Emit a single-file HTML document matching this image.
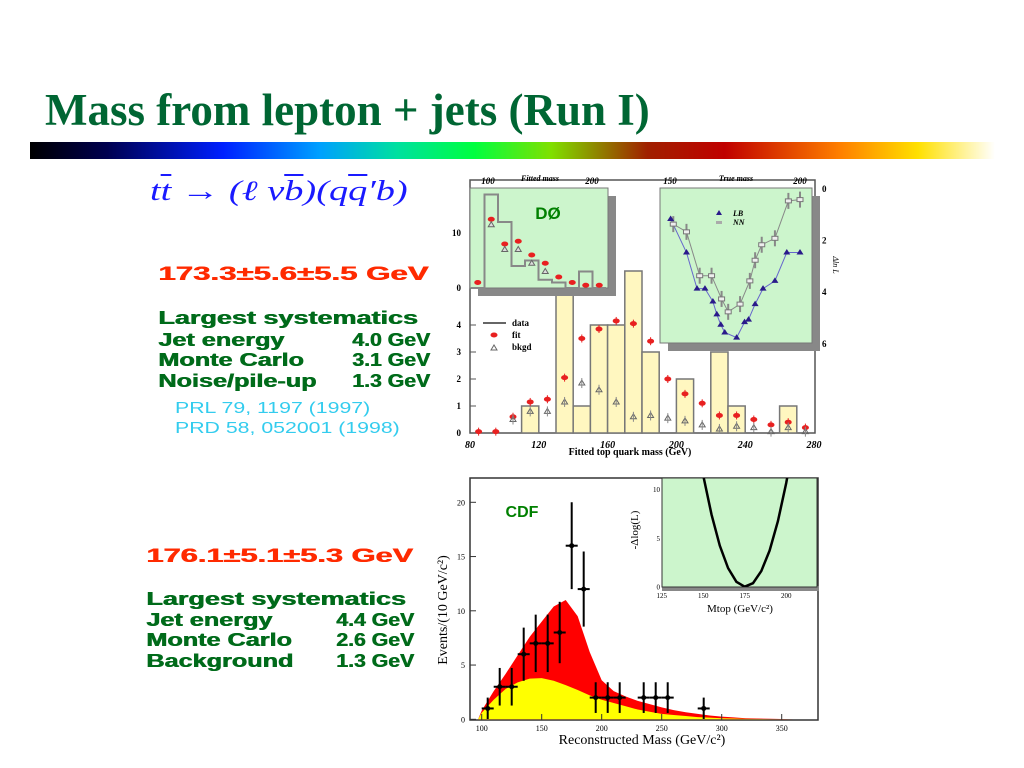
<!DOCTYPE html>
<html><head><meta charset="utf-8"><style>
html,body{margin:0;padding:0;background:#fff;}
body{width:1024px;height:768px;position:relative;overflow:hidden;font-family:"Liberation Sans",sans-serif;}
.t{position:absolute;white-space:nowrap;transform-origin:0 0;}
.g{color:#006b1a;font-weight:bold;font-size:18px;transform:scaleX(1.4);text-shadow:0.6px 0 #006b1a;}
.h{transform:scaleX(1.5);}
.v{transform:scaleX(1.18);}
.r{color:#ff2a00;font-weight:bold;font-size:19.5px;transform:scaleX(1.6);text-shadow:0.6px 0 #ff2a00;}
.c{color:#33ccee;font-size:16px;transform:scaleX(1.33);}
</style></head><body>
<div class="t" style="left:45px;top:84px;font:bold 45px 'Liberation Serif',serif;color:#006633;">Mass from lepton + jets (Run I)</div>
<div class="t" style="left:30px;top:142px;width:965px;height:17px;background:linear-gradient(90deg,#000 0%,#000050 8%,#0020ff 20%,#00a0ff 30%,#00e0a0 38%,#00ff40 46%,#80e000 54%,#a02000 64%,#c00000 72%,#ff8000 84%,#ffe000 92%,#fff 100%);"></div>
<div class="t" style="left:150px;top:176px;font:italic 28px 'Liberation Serif',serif;color:#1a1aff;transform:scaleX(1.37);">t<span style="text-decoration:overline">t</span> &rarr; (&#8467; &nu;<span style="text-decoration:overline">b</span>)(q<span style="text-decoration:overline">q</span>&#8242;b)</div>
<div class="t r" style="left:158px;top:263px;">173.3±5.6±5.5 GeV</div>
<div class="t g h" style="left:158px;top:308px;">Largest systematics</div>
<div class="t g" style="left:158px;top:330px;">Jet energy</div>
<div class="t g v" style="left:352px;top:330px;">4.0 GeV</div>
<div class="t g" style="left:158px;top:350px;">Monte Carlo</div>
<div class="t g v" style="left:352px;top:350px;">3.1 GeV</div>
<div class="t g" style="left:158px;top:371px;">Noise/pile-up</div>
<div class="t g v" style="left:352px;top:371px;">1.3 GeV</div>
<div class="t c" style="left:175px;top:400px;">PRL 79, 1197 (1997)</div>
<div class="t c" style="left:175px;top:420px;">PRD 58, 052001 (1998)</div>
<div class="t r" style="left:146px;top:545px;transform:scaleX(1.58);">176.1±5.1±5.3 GeV</div>
<div class="t g h" style="left:146px;top:589px;">Largest systematics</div>
<div class="t g" style="left:146px;top:610px;">Jet energy</div>
<div class="t g v" style="left:336px;top:610px;">4.4 GeV</div>
<div class="t g" style="left:146px;top:630px;">Monte Carlo</div>
<div class="t g v" style="left:336px;top:630px;">2.6 GeV</div>
<div class="t g" style="left:146px;top:651px;">Background</div>
<div class="t g v" style="left:336px;top:651px;">1.3 GeV</div>

<svg id="s" width="1024" height="768" style="position:absolute;left:0;top:0" xmlns="http://www.w3.org/2000/svg"></svg>
<script>
// D0 main
const d0BinLow=[110,130,140,150,160,170,180,200,220,230,260];
const d0Data=[1,6,1,4,4,6,3,2,3,1,1];
const d0FitM=[85,95,105,115,125,135,145,155,165,175,185,195,205,215,225,235,245,255,265,275];
const d0Fit=[0.05,0.05,0.6,1.15,1.25,2.05,3.5,3.85,4.15,4.05,3.4,2,1.45,1.1,0.65,0.65,0.5,0.3,0.4,0.2];
const d0BkgM=[105,115,125,135,145,155,165,175,185,195,205,215,225,235,245,255,265,275];
const d0Bkg=[0.5,0.8,0.8,1.15,1.85,1.6,1.15,0.6,0.65,0.55,0.45,0.3,0.15,0.25,0.2,0.05,0.2,0.05];
const d0XTicks=[80,120,160,200,240,280];
const d0YTicks=[0,1,2,3,4];
// D0 inset 1
const in1Data=[0,17,12,4,5,1.5,1,0,3,0];
const in1Fit=[1,12.5,8,8.5,6,4.5,2,1,0.5,0.5];
const in1Bkg=[null,11.5,7,7,4.5,3,null,null,null,null];
// D0 inset 2
const lbM=[151,157,161,164,167,168.5,170,171.5,176,179,180.5,183,186,190.5,195,200];
const lbV=[1.2,2.5,3.9,3.9,4.4,4.9,5.3,5.6,5.8,5.2,5.1,4.5,3.9,3.6,2.5,2.5];
const nnM=[152,157,162,166.5,170.3,172.8,177.3,181,183,185.5,190.5,195.6,200];
const nnV=[1.4,1.7,3.4,3.4,4.3,4.8,4.5,3.6,2.8,2.2,1.95,0.5,0.45];
// CDF
const cdfM=[105,115,125,135,145,155,165,175,185,195,205,215,235,245,255,285];
const cdfN=[1,3,3,6,7,7,8,16,12,2,2,2,2,2,2,1];
const curveM=[97,100,110,120,130,140,150,160,170,180,190,200,210,220,230,240,250,260,270,280,290,300,310,320,340,360];
const curveTot=[0,0.8,2.6,4.2,5.9,7.6,9.0,10.4,11,9.5,6.2,3.6,2.6,2.1,1.7,1.4,1.1,0.85,0.65,0.5,0.35,0.25,0.18,0.1,0.05,0];
const curveBkg=[0,0.6,1.8,2.8,3.4,3.75,3.8,3.55,3.15,2.7,2.2,1.8,1.5,1.2,0.9,0.7,0.5,0.4,0.3,0.2,0.15,0.1,0.07,0.04,0.02,0];
const cdfXTicks=[100,150,200,250,300,350];
const cdfYTicks=[0,5,10,15,20];
const likeM=[145,150,155,160,165,170,175,180,185,190,195,200,205];
const likeV=[16.4,11.4,7.4,4.2,1.9,0.5,0,0.36,1.6,3.7,6.7,10.6,15.3];
const likeXTicks=[125,150,175,200];
const likeYTicks=[0,5,10];

const S=document.getElementById('s');const NS='http://www.w3.org/2000/svg';
function el(tag,a,parent){const e=document.createElementNS(NS,tag);for(const k in a)e.setAttribute(k,a[k]);(parent||S).appendChild(e);return e;}
function txt(x,y,s,a){const e=el('text',Object.assign({x:x,y:y,'font-family':'Liberation Serif,serif','font-size':9},a||{}));e.textContent=s;return e;}

// ---- D0 main ----
const dx=m=>470+(m-80)*1.72, dy=v=>433-v*27;
let e=el('rect',{x:470,y:180,width:345,height:253,fill:'#fff',stroke:'#555','stroke-width':1.5});

d0BinLow.forEach((b,i)=>{const r=el('rect',{x:dx(b),y:dy(d0Data[i]),width:dx(b+10)-dx(b),height:d0Data[i]*27,fill:'#fff7c0',stroke:'#777','stroke-width':1.5});
});
d0FitM.forEach((m,i)=>{const c=el('ellipse',{cx:dx(m),cy:dy(d0Fit[i]),rx:3.5,ry:2.5,fill:'#e82020'});

el('line',{x1:dx(m),x2:dx(m),y1:dy(d0Fit[i])-4,y2:dy(d0Fit[i])+4,stroke:'#e82020','stroke-width':1});});
d0BkgM.forEach((m,i)=>{const x=dx(m),y=dy(d0Bkg[i]);const p=el('path',{d:`M${x-3},${y+2}L${x},${y-3}L${x+3},${y+2}Z`,fill:'none',stroke:'#666','stroke-width':1});

el('line',{x1:x,x2:x,y1:y-5,y2:y+5,stroke:'#888','stroke-width':1});});
d0XTicks.forEach(t=>{const l=txt(dx(t),448,t,{'text-anchor':'middle','font-style':'italic','font-weight':'bold','font-size':10});
});
d0YTicks.forEach(t=>{const l=txt(461,dy(t)+3,t,{'text-anchor':'end','font-weight':'bold','font-size':9});

el('line',{x1:470,x2:476,y1:dy(t),y2:dy(t),stroke:'#555'});});
e=txt(630,455,'Fitted top quark mass (GeV)',{'text-anchor':'middle','font-weight':'bold','font-size':10});

// legend
el('line',{x1:483,x2:506,y1:323,y2:323,stroke:'#333','stroke-width':1.5});
e=txt(512,326,'data',{'font-size':9,'font-weight':'bold'});
el('ellipse',{cx:494,cy:335,rx:3.5,ry:2.5,fill:'#e82020'});
e=txt(512,338,'fit',{'font-size':9,'font-weight':'bold'});
el('path',{d:'M491,350L494,345L497,350Z',fill:'none',stroke:'#666'});
e=txt(512,350,'bkgd',{'font-size':9,'font-weight':'bold'});

// ---- inset 1 ----
const ix=i=>471+i*13.5, iy=v=>288-v*5.5;
el('rect',{x:478,y:196,width:138,height:100,fill:'#888'});
e=el('rect',{x:470,y:188,width:138,height:100,fill:'#ccf5cc',stroke:'#777'});

let dpath='M'+ix(0)+','+iy(in1Data[0]);
in1Data.forEach((v,i)=>{dpath+=`L${ix(i)},${iy(v)}L${ix(i+1)},${iy(v)}`;});
el('path',{d:dpath,fill:'none',stroke:'#888','stroke-width':2});
in1Fit.forEach((v,i)=>{const c=el('ellipse',{cx:ix(i)+6.75,cy:iy(v),rx:3.5,ry:2.5,fill:'#e82020'});
});
in1Bkg.forEach((v,i)=>{if(v===null)return;const x=ix(i)+6.75,y=iy(v);el('path',{d:`M${x-3},${y+2}L${x},${y-3}L${x+3},${y+2}Z`,fill:'#ddd',stroke:'#666'});});
txt(461,236,'10',{'text-anchor':'end','font-weight':'bold'});txt(461,291,'0',{'text-anchor':'end','font-weight':'bold'});
txt(488,184,'100',{'text-anchor':'middle','font-style':'italic','font-weight':'bold'});
txt(592,184,'200',{'text-anchor':'middle','font-style':'italic','font-weight':'bold'});
txt(540,181,'Fitted mass',{'text-anchor':'middle','font-style':'italic','font-weight':'bold','font-size':8});
e=txt(548,219,'DØ',{'text-anchor':'middle','font-family':'Liberation Sans,sans-serif','font-weight':'bold','font-size':17,fill:'#008000'});


// ---- inset 2 ----
const tx=m=>668+(m-150)*2.64, ty=v=>188+v*25.8;
el('rect',{x:668,y:196,width:152,height:155,fill:'#888'});
e=el('rect',{x:660,y:188,width:152,height:155,fill:'#ccf5cc',stroke:'#777'});

let lp='';lbM.forEach((m,i)=>{lp+=(i?'L':'M')+tx(m)+','+ty(lbV[i]);});
el('path',{d:lp,fill:'none',stroke:'#6666cc','stroke-width':1});
let np='';nnM.forEach((m,i)=>{np+=(i?'L':'M')+tx(m)+','+ty(nnV[i]);});
el('path',{d:np,fill:'none',stroke:'#888','stroke-width':1});
nnM.forEach((m,i)=>{const x=tx(m),y=ty(nnV[i]);el('line',{x1:x,x2:x,y1:y-8,y2:y+8,stroke:'#888','stroke-width':2});
const r=el('rect',{x:x-3,y:y-2,width:6,height:4,fill:'#eee',stroke:'#777'});});
lbM.forEach((m,i)=>{const x=tx(m),y=ty(lbV[i]);const p=el('path',{d:`M${x-3.5},${y+2}L${x},${y-3.5}L${x+3.5},${y+2}Z`,fill:'#2a1a8a'});
});
el('path',{d:'M716,215L719,210L722,215Z',fill:'#2a1a8a'});txt(733,216,'LB',{'font-style':'italic','font-weight':'bold','font-size':8});
el('rect',{x:716,y:221,width:6,height:3,fill:'#aaa'});txt(733,225,'NN',{'font-style':'italic','font-weight':'bold','font-size':8});
txt(670,184,'150',{'text-anchor':'middle','font-style':'italic','font-weight':'bold'});
txt(800,184,'200',{'text-anchor':'middle','font-style':'italic','font-weight':'bold'});
txt(736,181,'True mass',{'text-anchor':'middle','font-style':'italic','font-weight':'bold','font-size':8});
[0,2,4,6].forEach(v=>{txt(822,ty(v)+4,v,{'font-weight':'bold'});});
txt(833,265,'Δln L',{'font-style':'italic','font-size':8,transform:'rotate(90 833 265)','text-anchor':'middle'});

// ---- CDF ----
const cx=m=>481.7+(m-100)*1.2, cy=v=>719.3-v*10.85;
e=el('rect',{x:470,y:478,width:348,height:242,fill:'#fff',stroke:'#333','stroke-width':1.5});

let tp='M'+cx(curveM[0])+','+cy(0);curveM.forEach((m,i)=>{tp+='L'+cx(m)+','+cy(curveTot[i]);});tp+='Z';
e=el('path',{d:tp,fill:'#ff0000'});
let bp='M'+cx(curveM[0])+','+cy(0);curveM.forEach((m,i)=>{bp+='L'+cx(m)+','+cy(curveBkg[i]);});bp+='Z';
e=el('path',{d:bp,fill:'#ffff00'});
cdfM.forEach((m,i)=>{const x=cx(m),y=cy(cdfN[i]),er=Math.sqrt(cdfN[i])*10.85;
el('line',{x1:x,x2:x,y1:y-er,y2:Math.min(y+er,719),stroke:'#000','stroke-width':2});
el('line',{x1:x-6,x2:x+6,y1:y,y2:y,stroke:'#000','stroke-width':2});
const c=el('circle',{cx:x,cy:y,r:2.5,fill:'#000'});});
cdfXTicks.forEach(t=>{const l=txt(cx(t),731,t,{'text-anchor':'middle','font-size':8});
el('line',{x1:cx(t),x2:cx(t),y1:720,y2:714,stroke:'#333'});});
cdfYTicks.forEach(t=>{const l=txt(465,cy(t)+3,t,{'text-anchor':'end','font-size':8});
el('line',{x1:470,x2:476,y1:cy(t),y2:cy(t),stroke:'#333'});});
e=txt(642,744,'Reconstructed Mass (GeV/c²)',{'text-anchor':'middle','font-size':14});

e=txt(447,610,'Events/(10 GeV/c²)',{'text-anchor':'middle','font-size':14,transform:'rotate(-90 447 610)'});

e=txt(522,517,'CDF',{'text-anchor':'middle','font-family':'Liberation Sans,sans-serif','font-weight':'bold','font-size':16,fill:'#008000'});

// likelihood inset
const lx=m=>661.7+(m-125)*1.66, ly=v=>586.7-v*9.77;
el('rect',{x:662,y:586,width:157,height:5,fill:'#888'});
e=el('rect',{x:662,y:478,width:155,height:109,fill:'#ccf5cc',stroke:'#333'});

el('clipPath',{id:'lc'});el('rect',{x:662,y:478,width:155,height:109},document.getElementById('lc'));
let lk='';likeM.forEach((m,i)=>{lk+=(i?'L':'M')+lx(m)+','+ly(likeV[i]);});
e=el('path',{d:lk,fill:'none',stroke:'#000','stroke-width':2.5,'clip-path':'url(#lc)'});

likeXTicks.forEach(t=>{txt(lx(t),598,t,{'text-anchor':'middle','font-size':7});});
likeYTicks.forEach(t=>{txt(660,ly(t)+3,t,{'text-anchor':'end','font-size':7});});
txt(638,530,'-Δlog(L)',{'text-anchor':'middle','font-size':11,transform:'rotate(-90 638 530)'});
txt(740,612,'Mtop (GeV/c²)',{'text-anchor':'middle','font-size':11});
</script>
</body></html>
